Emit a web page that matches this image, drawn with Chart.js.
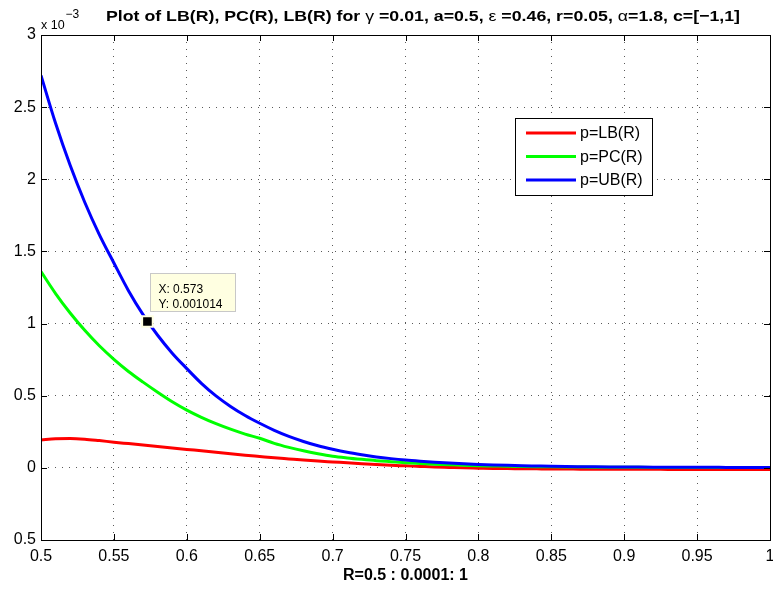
<!DOCTYPE html>
<html>
<head>
<meta charset="utf-8">
<script src="https://cdn.jsdelivr.net/npm/chart.js@4.4.0/dist/chart.umd.min.js"></script>
<style>
  html, body { margin: 0; padding: 0; background: #fff; }
  #wrap { width: 773px; height: 590px; position: relative; }
</style>
</head>
<body>
<div id="wrap"><canvas id="c"></canvas></div>
<script>
// R values (x axis)
const rValues = [
  0.50, 0.51, 0.52, 0.53, 0.54, 0.55, 0.56, 0.57, 0.58, 0.59,
  0.60, 0.61, 0.62, 0.63, 0.64, 0.65, 0.66, 0.67, 0.68, 0.69,
  0.70, 0.71, 0.72, 0.73, 0.74, 0.75, 0.76, 0.77, 0.78, 0.79,
  0.80, 0.81, 0.82, 0.83, 0.84, 0.85, 0.86, 0.87, 0.88, 0.89,
  0.90, 0.91, 0.92, 0.93, 0.94, 0.95, 0.96, 0.97, 0.98, 0.99, 1.00
];

// values in units of 1e-3
const lbValues = [
  0.193, 0.201, 0.204, 0.199, 0.189, 0.178, 0.168, 0.158, 0.148, 0.138,
  0.128, 0.118, 0.108, 0.098, 0.088, 0.079, 0.070, 0.062, 0.054, 0.047,
  0.041, 0.035, 0.029, 0.023, 0.018, 0.014, 0.010, 0.006, 0.003, 0.000,
  -0.002, -0.004, -0.005, -0.006, -0.007, -0.008, -0.008, -0.009, -0.009, -0.010,
  -0.010, -0.010, -0.010, -0.011, -0.011, -0.011, -0.011, -0.011, -0.011, -0.011, -0.011
];

const pcValues = [
  1.36, 1.208, 1.073, 0.953, 0.846, 0.752, 0.668, 0.594, 0.524, 0.458,
  0.400, 0.350, 0.306, 0.268, 0.234, 0.205, 0.170, 0.142, 0.118, 0.098,
  0.081, 0.069, 0.059, 0.050, 0.043, 0.036, 0.030, 0.025, 0.021, 0.018,
  0.015, 0.013, 0.011, 0.0095, 0.0082, 0.0071, 0.0062, 0.0054, 0.0048, 0.0043,
  0.0039, 0.0035, 0.0032, 0.0030, 0.0028, 0.0026, 0.0025, 0.0024, 0.0023, 0.0022, 0.0021
];

const ubValues = [
  2.72, 2.388, 2.097, 1.841, 1.617, 1.420, 1.228, 1.062, 0.919, 0.795,
  0.688, 0.586, 0.499, 0.426, 0.363, 0.309, 0.260, 0.218, 0.183, 0.153,
  0.129, 0.108, 0.091, 0.076, 0.064, 0.054, 0.046, 0.039, 0.033, 0.028,
  0.024, 0.0205, 0.0175, 0.015, 0.013, 0.011, 0.0095, 0.0083, 0.0073, 0.0065,
  0.0058, 0.0052, 0.0047, 0.0043, 0.0040, 0.0037, 0.0035, 0.0033, 0.0031, 0.0030, 0.0029
];

const seriesLabels = ['p=LB(R)', 'p=PC(R)', 'p=UB(R)'];
const seriesColors = ['#ff0000', '#00ff00', '#0000ff'];

// data tip
const tipX = 0.573;
const tipY = 1.014;
const tipLines = ['X: 0.573', 'Y: 0.001014'];

const xTicks = [0.5, 0.55, 0.6, 0.65, 0.7, 0.75, 0.8, 0.85, 0.9, 0.95, 1];
const yTicks = [-0.5, 0, 0.5, 1, 1.5, 2, 2.5, 3];
const yTickLabels = ['0.5', '0', '0.5', '1', '1.5', '2', '2.5', '3'];

const titleParts = [
  ['Plot of LB(R), PC(R), LB(R) for ', true],
  ['\u03b3', false],
  [' =0.01, a=0.5, ', true],
  ['\u03b5', false],
  [' =0.46, r=0.05, ', true],
  ['\u03b1', false],
  ['=1.8, c=[\u22121,1]', true],
];

const FONT = "'Liberation Sans', Arial, Helvetica, sans-serif";

function pts(vals) {
  return rValues.map((x, i) => ({ x, y: vals[i] }));
}

const matlabDecor = {
  id: 'matlabDecor',
  afterDraw(chart) {
    const { ctx, chartArea: a, scales } = chart;
    const xs = scales.x, ys = scales.y;
    ctx.save();

    // box + inward ticks
    ctx.strokeStyle = '#000';
    ctx.lineWidth = 1;
    ctx.strokeRect(Math.round(a.left) + 0.5, Math.round(a.top) + 0.5,
      Math.round(a.right - a.left), Math.round(a.bottom - a.top));
    const TL = 6;
    ctx.beginPath();
    xTicks.forEach(v => {
      const px = Math.round(xs.getPixelForValue(v)) + 0.5;
      ctx.moveTo(px, a.bottom); ctx.lineTo(px, a.bottom - TL);
      ctx.moveTo(px, a.top); ctx.lineTo(px, a.top + TL);
    });
    yTicks.forEach(v => {
      const py = Math.round(ys.getPixelForValue(v)) + 0.5;
      ctx.moveTo(a.left, py); ctx.lineTo(a.left + TL, py);
      ctx.moveTo(a.right, py); ctx.lineTo(a.right - TL, py);
    });
    ctx.stroke();

    // legend
    const lx = 515.5, ly = 118.5, lw = 137, lh = 77;
    ctx.fillStyle = '#fff';
    ctx.fillRect(lx, ly, lw, lh);
    ctx.strokeRect(lx, ly, lw, lh);
    ctx.font = '16px ' + FONT;
    ctx.textBaseline = 'middle';
    seriesLabels.forEach((lab, i) => {
      const yy = 133 + i * 23.5;
      ctx.strokeStyle = seriesColors[i];
      ctx.lineWidth = 3;
      ctx.beginPath();
      ctx.moveTo(526, yy); ctx.lineTo(576, yy);
      ctx.stroke();
      ctx.fillStyle = '#000';
      ctx.fillText(lab, 580, yy + 1);
    });

    // data tip box
    const px = xs.getPixelForValue(tipX), py = ys.getPixelForValue(tipY);
    const bx = Math.round(px + 3) + 0.5, by = Math.round(py - 49) + 0.5;
    ctx.fillStyle = '#ffffe1';
    ctx.strokeStyle = '#c8c8c8';
    ctx.lineWidth = 1;
    ctx.fillRect(bx, by, 85, 38);
    ctx.strokeRect(bx, by, 85, 38);
    ctx.fillStyle = '#000';
    ctx.font = '12px ' + FONT;
    ctx.textBaseline = 'alphabetic';
    ctx.fillText(tipLines[0], px + 11, py - 29);
    ctx.fillText(tipLines[1], px + 11, py - 14);

    // title: 15.5px, stretched a little to span the original width
    const fontFor = bold => (bold ? 'bold ' : '') + '15.5px ' + FONT;
    let tw = 0;
    titleParts.forEach(([t, bold]) => { ctx.font = fontFor(bold); tw += ctx.measureText(t).width; });
    ctx.save();
    ctx.translate(106, 20.5);
    ctx.scale(634 / tw, 1);
    let tx = 0;
    titleParts.forEach(([t, bold]) => {
      ctx.font = fontFor(bold);
      ctx.fillText(t, tx, 0);
      tx += ctx.measureText(t).width;
    });
    ctx.restore();

    // exponent label
    ctx.font = '12.5px ' + FONT;
    ctx.fillText('x 10', 41, 28.5);
    ctx.font = '12px ' + FONT;
    ctx.fillText('\u22123', 65.5, 18);

    ctx.restore();
  }
};

const lineDs = (i, vals, order) => ({
  label: seriesLabels[i],
  data: pts(vals),
  borderColor: seriesColors[i],
  backgroundColor: seriesColors[i],
  borderWidth: 3,
  pointRadius: 0,
  cubicInterpolationMode: 'monotone',
  fill: false,
  order,
});

new Chart(document.getElementById('c'), {
  type: 'line',
  data: {
    datasets: [
      lineDs(0, lbValues, 3),
      lineDs(1, pcValues, 2),
      lineDs(2, ubValues, 1),
      {
        label: 'tip',
        data: [{ x: tipX, y: tipY }],
        showLine: false,
        pointStyle: 'rect',
        pointRadius: 7.5,
        pointBackgroundColor: '#000',
        pointBorderColor: '#ffffe1',
        pointBorderWidth: 2,
        order: 0,
      },
    ],
  },
  options: {
    responsive: true,
    maintainAspectRatio: false,
    animation: false,
    layout: { autoPadding: false, padding: { left: 0, top: 35, right: 3, bottom: 0 } },
    plugins: {
      legend: { display: false },
      tooltip: { enabled: false },
      title: { display: false },
    },
    scales: {
      x: {
        type: 'linear',
        min: 0.5,
        max: 1,
        afterBuildTicks: s => { s.ticks = xTicks.map(v => ({ value: v })); },
        ticks: {
          color: '#000',
          font: { family: FONT, size: 16 },
          padding: 7,
          maxRotation: 0,
          autoSkip: false,
          callback: v => String(Math.round(v * 100) / 100),
        },
        grid: { color: 'rgba(0,0,0,0.65)', lineWidth: 1, drawTicks: false },
        border: { display: false, dash: [1, 6] },
        title: {
          display: true,
          text: 'R=0.5 : 0.0001: 1',
          color: '#000',
          font: { family: FONT, size: 16, weight: 'bold' },
          padding: { top: 0, bottom: 5 },
        },
        afterFit: s => { s.height = 50; s.paddingLeft = 0; s.paddingRight = 0; },
      },
      y: {
        type: 'linear',
        min: -0.5,
        max: 3,
        afterBuildTicks: s => { s.ticks = yTicks.map(v => ({ value: v })); },
        ticks: {
          color: '#000',
          font: { family: FONT, size: 16 },
          padding: 5,
          autoSkip: false,
          callback: v => yTickLabels[yTicks.indexOf(Math.round(v * 10) / 10)],
        },
        grid: { color: 'rgba(0,0,0,0.65)', lineWidth: 1, drawTicks: false },
        border: { display: false, dash: [1, 6] },
        afterFit: s => { s.width = 41; s.paddingTop = 0; s.paddingBottom = 0; },
      },
    },
  },
  plugins: [matlabDecor],
});
</script>
</body>
</html>
